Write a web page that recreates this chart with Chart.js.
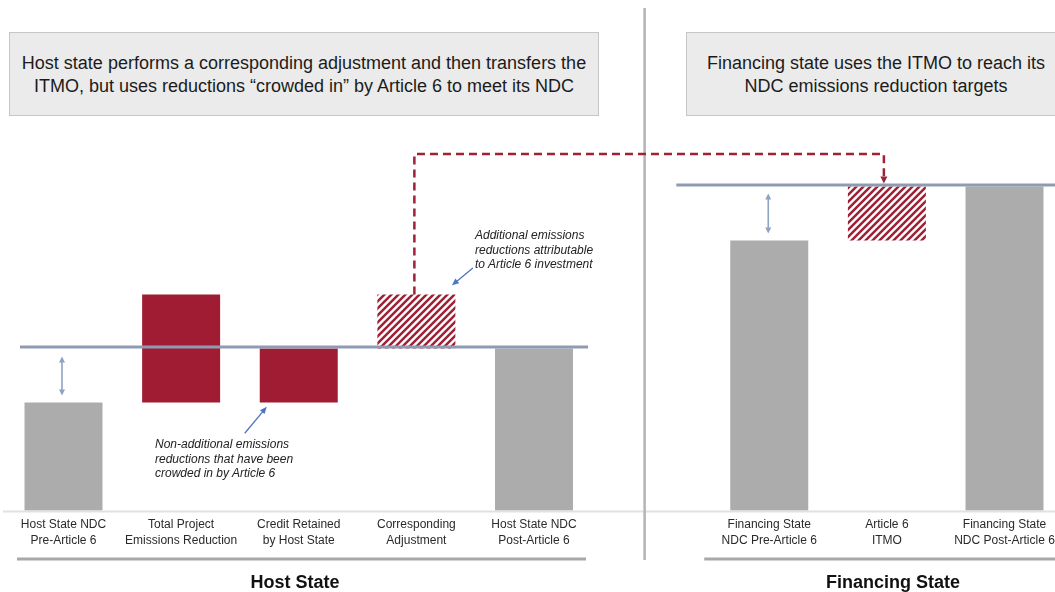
<!DOCTYPE html>
<html><head><meta charset="utf-8">
<script src="https://cdn.jsdelivr.net/npm/chart.js@4.4.1/dist/chart.umd.min.js"></script>
<style>
html,body{margin:0;padding:0;background:#fff;}
#wrap{position:relative;width:1055px;height:592px;overflow:hidden;font-family:"Liberation Sans",Arial,Helvetica,sans-serif;}
canvas{position:absolute;left:0;top:0;}
.hdr{position:absolute;background:#ebebeb;border:1.5px solid #c6c6c6;box-sizing:border-box;font-size:18px;line-height:23px;color:#1b1b1b;text-align:center;white-space:nowrap;padding-top:19px;}
.note{position:absolute;font-style:italic;font-size:12px;line-height:14.5px;color:#222;white-space:nowrap;}
.grp{position:absolute;font-weight:bold;font-size:18px;line-height:20px;color:#111;white-space:nowrap;transform:translateX(-50%);}
</style></head>
<body><div id="wrap">
<canvas id="c" width="1055" height="592"></canvas>
<div class="hdr" style="left:9px;top:32px;width:590px;height:84px;">Host state performs a corresponding adjustment and then transfers the<br>ITMO, but uses reductions “crowded in” by Article 6 to meet its NDC</div>
<div class="hdr" style="left:686px;top:32px;width:380px;height:84px;">Financing state uses the ITMO to reach its<br>NDC emissions reduction targets</div>
<div class="note" style="left:155px;top:437px;">Non-additional emissions<br>reductions that have been<br>crowded in by Article 6</div>
<div class="note" style="left:475px;top:228px;">Additional emissions<br>reductions attributable<br>to Article 6 investment</div>
<div class="grp" style="left:295px;top:572px;">Host State</div>
<div class="grp" style="left:893px;top:572px;">Financing State</div>
</div>
<script>
// ---- data ----
const categories = [
  ['Host State NDC','Pre-Article 6'],
  ['Total Project','Emissions Reduction'],
  ['Credit Retained','by Host State'],
  ['Corresponding','Adjustment'],
  ['Host State NDC','Post-Article 6'],
  '',
  ['Financing State','NDC Pre-Article 6'],
  ['Article 6','ITMO'],
  ['Financing State','NDC Post-Article 6']
];
const ndcLevels = [[0,20], null, null, null, [0,30], null, [0,50], null, [0,60]];
const projectReductions = [null, [20,40], [20,30], null, null, null, null, null, null];
const transferredReductions = [null, null, null, [30,40], null, null, null, [50,60], null];
const ndcTargets = [30, 60]; // host state, financing state
const yMax = 70;

// ---- styles ----
const GRAY = '#acacac', RED = '#a01c32', HATCH_RED = '#9e2236';
function hatch(color){
  const s = 7, c = document.createElement('canvas'); c.width = c.height = s;
  const g = c.getContext('2d');
  g.fillStyle = '#fff'; g.fillRect(0,0,s,s);
  g.strokeStyle = color; g.lineWidth = 2.5;
  g.beginPath();
  g.moveTo(-2, s+2); g.lineTo(s+2, -2);
  g.moveTo(-2, 2); g.lineTo(2, -2);
  g.moveTo(s-2, s+2); g.lineTo(s+2, s-2);
  g.stroke();
  return g.createPattern(c, 'repeat');
}

function arrowHead(ctx, x, y, ang, len, w){
  ctx.save(); ctx.translate(x,y); ctx.rotate(ang);
  ctx.beginPath(); ctx.moveTo(0,0); ctx.lineTo(-len, -w/2); ctx.lineTo(-len, w/2); ctx.closePath(); ctx.fill();
  ctx.restore();
}
function arrowLine(ctx, x1,y1,x2,y2, both, len, w){
  const ang = Math.atan2(y2-y1, x2-x1);
  ctx.beginPath();
  ctx.moveTo(both ? x1 + Math.cos(ang)*len*0.6 : x1, both ? y1 + Math.sin(ang)*len*0.6 : y1);
  ctx.lineTo(x2 - Math.cos(ang)*len*0.6, y2 - Math.sin(ang)*len*0.6);
  ctx.stroke();
  arrowHead(ctx, x2, y2, ang, len, w);
  if (both) arrowHead(ctx, x1, y1, ang+Math.PI, len, w);
}

const decor = {
  id: 'decor',
  afterDatasetsDraw(chart){
    const ctx = chart.ctx, xs = chart.scales.x, ys = chart.scales.y;
    const X = i => xs.getPixelForValue(i), Y = v => ys.getPixelForValue(v);
    const step = X(1) - X(0), W = chart.width;
    ctx.save();
    // baseline
    ctx.strokeStyle = '#e1e1e1'; ctx.lineWidth = 2;
    ctx.beginPath(); ctx.moveTo(3, Y(0)+1); ctx.lineTo(W, Y(0)+1); ctx.stroke();
    // divider
    ctx.strokeStyle = '#b4b4b4'; ctx.lineWidth = 2.5;
    ctx.beginPath(); ctx.moveTo(X(5)-7, 8); ctx.lineTo(X(5)-7, 560); ctx.stroke();
    // NDC target lines
    ctx.strokeStyle = '#8f9bb2'; ctx.lineWidth = 3;
    ctx.beginPath();
    ctx.moveTo(X(0)-0.37*step, Y(ndcTargets[0])-1.5); ctx.lineTo(X(4)+0.46*step, Y(ndcTargets[0])-1.5);
    ctx.moveTo(X(6)-0.79*step, Y(ndcTargets[1])-1.5); ctx.lineTo(W, Y(ndcTargets[1])-1.5);
    ctx.stroke();
    // dashed ITMO transfer connector
    const topV = 66;
    ctx.strokeStyle = HATCH_RED; ctx.fillStyle = HATCH_RED; ctx.lineWidth = 2.5; ctx.setLineDash([8,5]);
    ctx.beginPath();
    ctx.moveTo(X(3)-2, Y(transferredReductions[3][1]));
    ctx.lineTo(X(3)-2, Y(topV));
    ctx.lineTo(X(7)-3, Y(topV));
    ctx.lineTo(X(7)-3, Y(ndcTargets[1])-10);
    ctx.stroke();
    ctx.setLineDash([]);
    arrowHead(ctx, X(7)-3, Y(ndcTargets[1])-3, Math.PI/2, 7, 7);
    // double arrows (gap to NDC)
    ctx.strokeStyle = '#8ea3c3'; ctx.fillStyle = '#8ea3c3'; ctx.lineWidth = 1.6;
    arrowLine(ctx, X(0)-1.5, Y(28.5), X(0)-1.5, Y(21.3), true, 6, 6);
    arrowLine(ctx, X(6)-1, Y(58.7), X(6)-1, Y(51.3), true, 6, 6);
    // annotation arrows
    ctx.strokeStyle = '#4f74c0'; ctx.fillStyle = '#4f74c0'; ctx.lineWidth = 1.3;
    arrowLine(ctx, X(2)-54, Y(14.3), X(2)-32, Y(19.2), false, 7, 6);
    arrowLine(ctx, X(3)+56.5, Y(44.9), X(3)+35.5, Y(41.7), false, 7, 6);
    // group bracket lines
    ctx.strokeStyle = '#a8a8a8'; ctx.lineWidth = 3;
    ctx.beginPath();
    ctx.moveTo(X(0)-46.5, 559); ctx.lineTo(X(4)+52, 559);
    ctx.moveTo(X(6)-65, 559); ctx.lineTo(W, 559);
    ctx.stroke();
    ctx.restore();
  }
};

new Chart(document.getElementById('c'), {
  type: 'bar',
  data: {
    labels: categories,
    datasets: [
      { label: 'NDC emissions level', data: ndcLevels, backgroundColor: GRAY, grouped: false, clip: false },
      { label: 'Project emissions reductions', data: projectReductions, backgroundColor: RED, grouped: false, clip: false },
      { label: 'Transferred (ITMO) reductions', data: transferredReductions, backgroundColor: hatch(HATCH_RED), grouped: false, clip: false }
    ]
  },
  options: {
    responsive: false, animation: false, devicePixelRatio: 1,
    layout: { padding: { left: 63.5, right: 50.5, top: 510.5 - yMax*5.4, bottom: 0 } },
    datasets: { bar: { barPercentage: 0.663, categoryPercentage: 1, borderWidth: 0 } },
    plugins: { legend: { display: false }, tooltip: { enabled: false }, title: { display: false } },
    scales: {
      x: {
        offset: false,
        grid: { display: false, drawTicks: false },
        border: { display: false },
        ticks: { autoSkip: false, maxRotation: 0, minRotation: 0, padding: 6.5, color: '#2a2a2a',
                 font: { family: '"Liberation Sans", Arial, sans-serif', size: 12, lineHeight: 1.3333 } },
        afterFit(s){ s.height = 81.5; s.paddingLeft = 0; s.paddingRight = 0; }
      },
      y: { display: false, min: 0, max: yMax }
    }
  },
  plugins: [decor]
});
</script>
</body></html>
